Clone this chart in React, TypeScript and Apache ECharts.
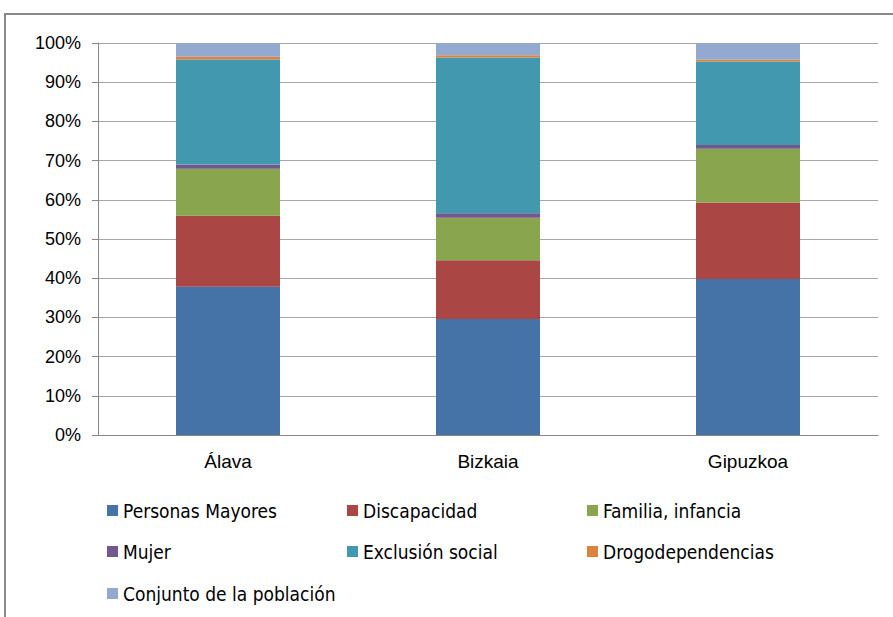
import React, { useEffect, useRef } from "react";
import * as echarts from "echarts";

const categories = ["Álava", "Bizkaia", "Gipuzkoa"];
const seriesNames = [
  "Personas Mayores",
  "Discapacidad",
  "Familia, infancia",
  "Mujer",
  "Exclusión social",
  "Drogodependencias",
  "Conjunto de la población",
];
const personasMayores = [37.8, 29.6, 39.8];
const discapacidad = [18.1, 15.0, 19.5];
const familiaInfancia = [12.0, 10.8, 13.7];
const mujer = [1.1, 1.2, 1.0];
const exclusionSocial = [26.8, 39.7, 21.3];
const drogodependencias = [0.7, 0.6, 0.5];
const conjuntoPoblacion = [3.5, 3.1, 4.2];
const yTicks = [0, 10, 20, 30, 40, 50, 60, 70, 80, 90, 100];

const colors = ["#4572A7", "#AA4643", "#89A54E", "#71588F", "#4198AF", "#DB843D", "#93A9CF"];
const allValues = [
  personasMayores,
  discapacidad,
  familiaInfancia,
  mujer,
  exclusionSocial,
  drogodependencias,
  conjuntoPoblacion,
];

const legendPos = [
  [107, 501], [347, 501], [587, 501],
  [107, 542], [347, 542], [587, 542],
  [107, 584],
];

export default function App() {
  const ref = useRef<HTMLDivElement>(null);
  useEffect(() => {
    document.body.style.margin = "0";
    const chart = echarts.init(ref.current!, null, { renderer: "svg" });
    const legendFont = "'DejaVu Sans Condensed', sans-serif";
    const axisFont = "'Liberation Sans', Arial, sans-serif";
    chart.setOption({
      animation: false,
      color: colors,
      grid: { left: 98, right: 15, top: 43, bottom: 182 },
      graphic: [
        {
          type: "rect",
          shape: { x: 5, y: 14, width: 1000, height: 700 },
          style: { fill: "none", stroke: "#8a8a8a", lineWidth: 2 },
          silent: true,
        },
      ],
      legend: seriesNames.map((n, i) => ({
        data: [n],
        left: legendPos[i][0],
        top: legendPos[i][1],
        itemWidth: 11,
        itemHeight: 11,
        icon: "rect",
        itemGap: 4,
        padding: 0,
        selectedMode: false,
        textStyle: { fontFamily: legendFont, fontSize: 19, color: "#000", padding: [0, 0, 0, 0] },
      })),
      xAxis: {
        type: "category",
        data: categories,
        axisLine: { lineStyle: { color: "#868686" } },
        axisTick: { length: 6, lineStyle: { color: "#868686" } },
        axisLabel: { color: "#000", fontFamily: axisFont, fontSize: 19, margin: 17 },
      },
      yAxis: {
        type: "value",
        min: 0,
        max: 100,
        interval: 10,
        axisLine: { show: true, lineStyle: { color: "#868686" } },
        axisTick: { show: true, length: 6, lineStyle: { color: "#868686" } },
        splitLine: { lineStyle: { color: "#a6a6a6" } },
        axisLabel: {
          color: "#000",
          fontFamily: axisFont,
          fontSize: 18,
          margin: 17,
          formatter: (v: number) => (yTicks.includes(v) ? v + "%" : ""),
        },
      },
      series: seriesNames.map((n, i) => ({
        name: n,
        type: "bar",
        stack: "total",
        barWidth: "40%",
        data: allValues[i],
        itemStyle: { color: colors[i] },
      })),
    });
    return () => chart.dispose();
  }, []);
  return <div ref={ref} style={{ width: 893, height: 617 }} />;
}
